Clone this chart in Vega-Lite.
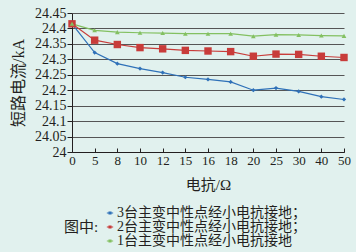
{
  "$schema": "https://vega.github.io/schema/vega-lite/v6.json",
  "autosize": {"type": "none"},
  "width": 272,
  "height": 139,
  "padding": {"left": 72, "top": 13, "right": 12, "bottom": 100},
  "background": "#e1f1ee",
  "config": {
    "view": {"stroke": null},
    "font": "Liberation Serif, Noto Sans CJK SC",
    "axis": {"labelFont": "Liberation Serif", "labelColor": "#231f20", "titleColor": "#231f20", "domainColor": "#231f20", "tickColor": "#231f20", "titleFont": "Liberation Serif, Noto Sans CJK SC", "titleFontWeight": "normal"},
    "legend": {"labelFont": "Liberation Serif, Noto Sans CJK SC", "titleFont": "Liberation Serif, Noto Sans CJK SC"}
  },
  "data": {"values": [
    {"x": 0, "s": "3", "v": 24.415}, {"x": 5, "s": "3", "v": 24.322}, {"x": 8, "s": "3", "v": 24.286}, {"x": 10, "s": "3", "v": 24.27}, {"x": 12, "s": "3", "v": 24.257},
    {"x": 15, "s": "3", "v": 24.242}, {"x": 16, "s": "3", "v": 24.235}, {"x": 18, "s": "3", "v": 24.227}, {"x": 20, "s": "3", "v": 24.2}, {"x": 25, "s": "3", "v": 24.207},
    {"x": 30, "s": "3", "v": 24.196}, {"x": 40, "s": "3", "v": 24.179}, {"x": 50, "s": "3", "v": 24.17},
    {"x": 0, "s": "2", "v": 24.415}, {"x": 5, "s": "2", "v": 24.362}, {"x": 8, "s": "2", "v": 24.348}, {"x": 10, "s": "2", "v": 24.338}, {"x": 12, "s": "2", "v": 24.334},
    {"x": 15, "s": "2", "v": 24.329}, {"x": 16, "s": "2", "v": 24.327}, {"x": 18, "s": "2", "v": 24.325}, {"x": 20, "s": "2", "v": 24.31}, {"x": 25, "s": "2", "v": 24.317},
    {"x": 30, "s": "2", "v": 24.316}, {"x": 40, "s": "2", "v": 24.31}, {"x": 50, "s": "2", "v": 24.306},
    {"x": 0, "s": "1", "v": 24.415}, {"x": 5, "s": "1", "v": 24.394}, {"x": 8, "s": "1", "v": 24.388}, {"x": 10, "s": "1", "v": 24.386}, {"x": 12, "s": "1", "v": 24.385},
    {"x": 15, "s": "1", "v": 24.383}, {"x": 16, "s": "1", "v": 24.383}, {"x": 18, "s": "1", "v": 24.383}, {"x": 20, "s": "1", "v": 24.375}, {"x": 25, "s": "1", "v": 24.38},
    {"x": 30, "s": "1", "v": 24.379}, {"x": 40, "s": "1", "v": 24.377}, {"x": 50, "s": "1", "v": 24.376}
  ]},
  "encoding": {
    "x": {"field": "x", "type": "ordinal", "scale": {"type": "point", "padding": 0, "domain": [0, 5, 8, 10, 12, 15, 16, 18, 20, 25, 30, 40, 50]},
      "axis": {"title": "电抗/Ω", "titleFontSize": 15, "titlePadding": 10, "labelAngle": 0, "labelFontSize": 13, "tickSize": -4, "labelPadding": 6, "grid": false}},
    "y": {"field": "v", "type": "quantitative", "scale": {"domain": [24, 24.45], "nice": false, "zero": false},
      "axis": {"title": "短路电流/kA", "titleFontSize": 16, "titlePadding": 8, "values": [24, 24.05, 24.1, 24.15, 24.2, 24.25, 24.3, 24.35, 24.4, 24.45], "format": "~g", "labelFontSize": 14, "tickSize": 5, "labelPadding": 1, "grid": true, "gridColor": "#555555", "gridWidth": 1}}
  },
  "layer": [
    {"mark": {"type": "line", "strokeWidth": 1.2},
      "encoding": {
        "color": {"field": "s", "type": "nominal", "scale": {"domain": ["3", "2", "1"], "range": ["#2f71b8", "#c83c3a", "#83c061"]},
          "legend": {"orient": "none", "legendX": -8, "legendY": 193, "direction": "vertical", "title": "图中:", "titleOrient": "left", "titleFontSize": 15, "titleFontWeight": "normal", "titleColor": "#231f20", "titlePadding": 4,
            "labelFontSize": 14, "labelColor": "#231f20", "labelOffset": 0, "labelLimit": 400, "rowPadding": 0, "symbolSize": 40, "symbolStrokeWidth": 1.2,
            "symbolType": "M-1,0H1M-0.3,-0.3H0.3V0.3H-0.3Z",
            "labelExpr": "datum.value == '3' ? '3台主变中性点经小电抗接地；' : datum.value == '2' ? '2台主变中性点经小电抗接地；' : '1台主变中性点经小电抗接地'"}}
      }},
    {"transform": [{"filter": "datum.s == '3'"}],
      "mark": {"type": "point", "filled": true, "opacity": 1, "shape": "diamond", "size": 18},
      "encoding": {"color": {"field": "s", "type": "nominal", "legend": null}}},
    {"transform": [{"filter": "datum.s == '2'"}],
      "mark": {"type": "point", "filled": true, "opacity": 1, "shape": "square", "size": 55},
      "encoding": {"color": {"field": "s", "type": "nominal", "legend": null}}},
    {"transform": [{"filter": "datum.s == '1'"}],
      "mark": {"type": "point", "filled": true, "opacity": 1, "shape": "triangle-up", "size": 22},
      "encoding": {"color": {"field": "s", "type": "nominal", "legend": null}}}
  ]
}
